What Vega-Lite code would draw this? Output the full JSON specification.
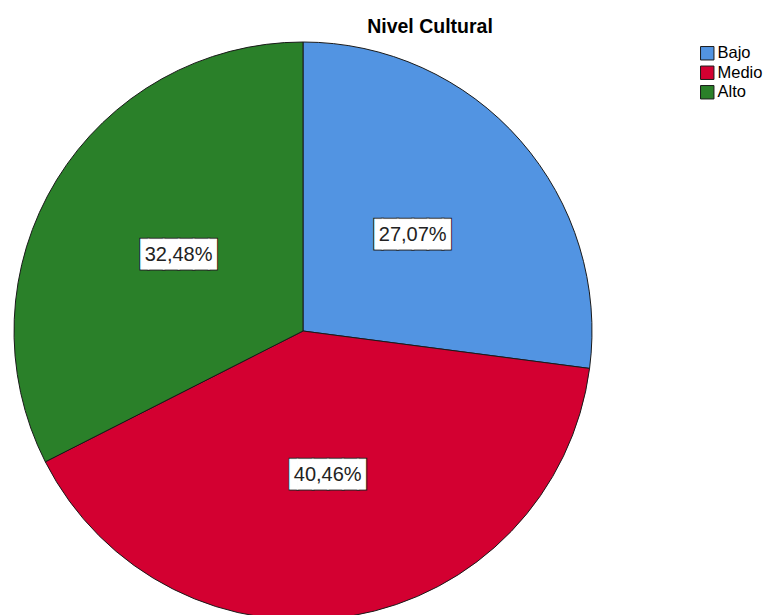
{
  "$schema": "https://vega.github.io/schema/vega-lite/v6.json",
  "autosize": {"type": "none"},
  "padding": {"left": 0, "top": 42, "right": 158, "bottom": 0},
  "width": 606,
  "height": 578,
  "background": "white",
  "title": {
    "text": "Nivel Cultural",
    "font": "Liberation Sans",
    "fontSize": 19.5,
    "fontWeight": "bold",
    "color": "#000000",
    "anchor": "middle",
    "dx": 127,
    "offset": 3
  },
  "data": {
    "values": [
      {"nivel": "Bajo", "pct": 27.07, "etiqueta": "27,07%", "orden": 1},
      {"nivel": "Medio", "pct": 40.46, "etiqueta": "40,46%", "orden": 2},
      {"nivel": "Alto", "pct": 32.48, "etiqueta": "32,48%", "orden": 3}
    ]
  },
  "encoding": {
    "theta": {"field": "pct", "type": "quantitative", "stack": true},
    "order": {"field": "orden", "type": "quantitative"}
  },
  "layer": [
    {
      "mark": {"type": "arc", "outerRadius": 289, "stroke": "#1a1a1a", "strokeWidth": 1},
      "encoding": {
        "color": {
          "field": "nivel",
          "type": "nominal",
          "sort": ["Bajo", "Medio", "Alto"],
          "scale": {"domain": ["Bajo", "Medio", "Alto"], "range": ["#5294E2", "#D30031", "#2A8029"]},
          "legend": {
            "title": null,
            "orient": "none",
            "legendX": 699,
            "legendY": 3,
            "padding": 0,
            "symbolType": "square",
            "symbolSize": 180,
            "symbolStrokeColor": "#1a1a1a",
            "symbolStrokeWidth": 1,
            "symbolOpacity": 1,
            "labelFont": "Liberation Sans",
            "labelFontSize": 16.5,
            "labelColor": "#000000",
            "labelOffset": 2,
            "rowPadding": 1.5
          }
        }
      }
    },
    {
      "mark": {"type": "text", "radius": 146, "font": "DejaVu Sans Mono", "fontSize": 25, "fill": "white", "stroke": "#222222", "strokeWidth": 3, "baseline": "middle", "align": "center"},
      "encoding": {"text": {"value": "▐████▌"}}
    },
    {
      "mark": {"type": "text", "radius": 146, "font": "DejaVu Sans Mono", "fontSize": 25, "fill": "white", "stroke": "white", "strokeWidth": 1, "baseline": "middle", "align": "center"},
      "encoding": {"text": {"value": "▐████▌"}}
    },
    {
      "mark": {"type": "text", "radius": 146, "font": "Liberation Sans", "fontSize": 20, "fill": "#222222", "baseline": "middle", "align": "center"},
      "encoding": {"text": {"field": "etiqueta", "type": "nominal"}}
    }
  ]
}
